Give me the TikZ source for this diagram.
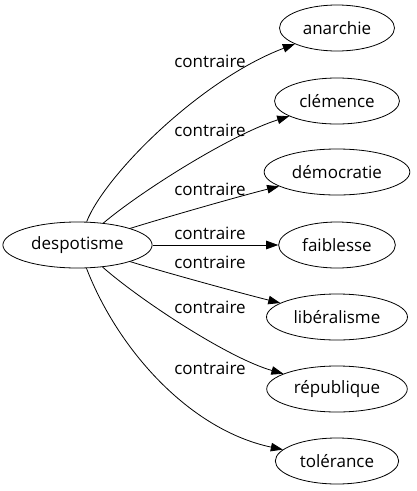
\documentclass[tikz,border=0pt]{standalone}
\usepackage{fontspec}
\setmainfont{Open Sans}
\usepackage{tikz}
\usetikzlibrary{arrows.meta,shapes.geometric}

\begin{document}
\begin{tikzpicture}[x=1pt,y=-1pt,
    word/.style={draw,ellipse,line width=0.8pt,inner xsep=6.5pt,minimum height=46pt,font=\fontsize{17}{20}\selectfont},
    rel/.style={font=\fontsize{17}{20}\selectfont,inner sep=0pt},
    link/.style={line width=0.8pt,-{Triangle[length=12pt,width=8.5pt]}}]
    \useasboundingbox (0,0) rectangle (416,491);
    \node[word] (D) at (77.5,245) {despotisme};
    \node[word] (A1) at (337,28) {anarchie};
    \node[word] (A2) at (337,101) {clémence};
    \node[word] (A3) at (337,172) {démocratie};
    \node[word] (A4) at (337,245) {faiblesse};
    \node[word] (A5) at (337,317) {libéralisme};
    \node[word] (A6) at (337,389) {république};
    \node[word] (A7) at (337,461) {tolérance};
    \node[rel] (L1) at (210,61) {contraire};
    \node[rel] (L2) at (210,130) {contraire};
    \node[rel] (L3) at (210,189) {contraire};
    \node[rel] (L4) at (210,233) {contraire};
    \node[rel] (L5) at (210,262) {contraire};
    \node[rel] (L6) at (210,307) {contraire};
    \node[rel] (L7) at (210,368) {contraire};
    \draw[link] (D) .. controls (105,175) and (200,80) .. (A1);
    \draw[link] (D) .. controls (140,192) and (230,135) .. (A2);
    \draw[link] (D) .. controls (160,219) and (240,196) .. (A3);
    \draw[link] (D) -- (A4);
    \draw[link] (D) .. controls (160,271) and (240,293) .. (A5);
    \draw[link] (D) .. controls (140,300) and (228,358) .. (A6);
    \draw[link] (D) .. controls (118,350) and (190,430) .. (A7);
\end{tikzpicture}
\end{document}
